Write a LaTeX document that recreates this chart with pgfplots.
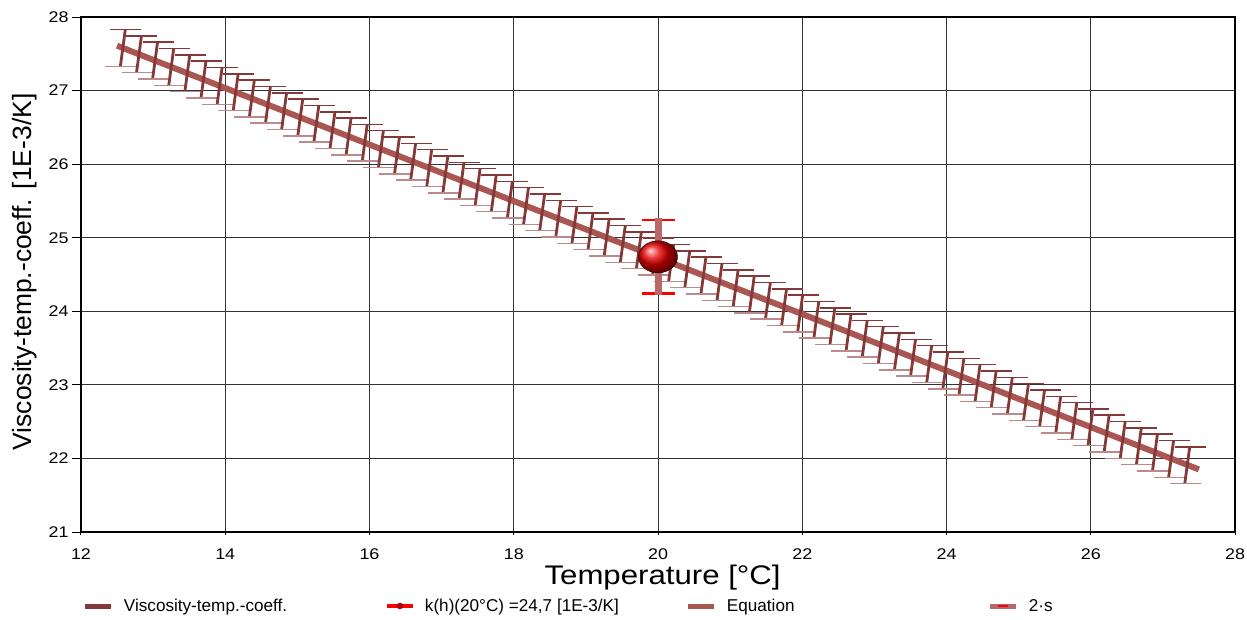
\documentclass[border=0pt]{standalone}
\usepackage{fontspec}
\setmainfont{Liberation Sans}
\newfontfamily\widefont[FakeStretch=1.16]{Liberation Sans}
\usepackage{pgfplots}
\usepackage{pgfplotstable}
\pgfplotsset{compat=1.18}
\usetikzlibrary{calc}
\definecolor{barc}{RGB}{132,56,56}
\definecolor{caplight}{RGB}{188,138,138}
\definecolor{eqc}{RGB}{170,86,82}
\definecolor{sbar}{RGB}{184,104,104}
\pgfplotsset{
  upbars/.style={error bars/.cd, y dir=plus, y fixed=0.25, error mark=none,
    draw error bar/.code 2 args={%
      \draw[barc, line width=2.8bp] let \p1=##1, \p2=##2 in (\p1) -- ({\x2+0.135*(\y2-\y1)},\y2);
      \draw[barc, line width=1.5bp] let \p1=##1, \p2=##2 in ({\x2+0.135*(\y2-\y1)-15bp},\y2) -- ({\x2+0.135*(\y2-\y1)+16bp},\y2);
    }},
  lowbars/.style={error bars/.cd, y dir=minus, y fixed=0.25, error mark=none,
    draw error bar/.code 2 args={%
      \draw[barc, line width=2.8bp] let \p1=##1, \p2=##2 in (\p1) -- ({\x2+0.135*(\y2-\y1)},\y2);
      \draw[caplight, line width=1.5bp] let \p1=##1, \p2=##2 in ({\x2+0.135*(\y2-\y1)-15bp},\y2) -- ({\x2+0.135*(\y2-\y1)+16bp},\y2);
    }},
  redbars/.style={error bars/.cd, y dir=both, y fixed=0.5, error mark=none,
    draw error bar/.code 2 args={%
      \draw[red, line width=2.5bp] let \p1=##1, \p2=##2 in ({\x2-16.5bp},\y2) -- ({\x2+16.5bp},\y2);
      \draw[sbar, line width=7bp] let \p1=##1, \p2=##2 in (\p1) -- (\x2,{\y2+0.05*(\y2-\y1)});
    }},
}
\pgfplotstableread{
x y
12.580 27.579
12.804 27.493
13.027 27.407
13.251 27.321
13.474 27.235
13.698 27.149
13.922 27.063
14.145 26.978
14.369 26.892
14.592 26.806
14.816 26.720
15.040 26.634
15.263 26.548
15.487 26.462
15.710 26.376
15.934 26.290
16.158 26.204
16.381 26.118
16.605 26.032
16.828 25.946
17.052 25.860
17.276 25.774
17.499 25.689
17.723 25.603
17.946 25.517
18.170 25.431
18.394 25.345
18.617 25.259
18.841 25.173
19.064 25.087
19.288 25.001
19.512 24.915
19.735 24.829
19.959 24.743
20.182 24.657
20.406 24.571
20.630 24.486
20.853 24.400
21.077 24.314
21.300 24.228
21.524 24.142
21.748 24.056
21.971 23.970
22.195 23.884
22.418 23.798
22.642 23.712
22.866 23.626
23.089 23.540
23.313 23.454
23.536 23.368
23.760 23.283
23.984 23.197
24.207 23.111
24.431 23.025
24.654 22.939
24.878 22.853
25.102 22.767
25.325 22.681
25.549 22.595
25.772 22.509
25.996 22.423
26.220 22.337
26.443 22.251
26.667 22.165
26.890 22.079
27.114 21.994
27.338 21.908
}\bars
\begin{document}
\begin{tikzpicture}
\useasboundingbox (-81bp,-88bp) rectangle (1166bp,532bp);
\begin{axis}[
  at={(0,0)}, anchor=south west,
  scale only axis, width=1154bp, height=515bp,
  xmin=12, xmax=28, ymin=21, ymax=28,
  xtick={12,14,...,28}, ytick={21,22,...,28},
  grid=major, grid style={black!80, line width=1bp},
  axis line style={black, line width=1.8bp},
  tick pos=left, tick align=outside, major tick length=9bp,
  xtick style={/pgfplots/major tick length=3bp},
  tick style={black, line width=1bp},
  ticklabel style={font=\widefont\fontsize{15.5}{15.5}\selectfont},
  xticklabel style={yshift=-4bp},
  /pgf/number format/assume math mode=true,
  xlabel={Temperature [°C]},
  ylabel={Viscosity-temp.-coeff. [1E-3/K]},
  xlabel style={at={(axis description cs:0.504,-0.0893)}, anchor=center, font=\widefont\fontsize{27}{27}\selectfont},
  ylabel style={at={(axis description cs:-0.0485,0.505)}, anchor=center, font=\fontsize{26.5}{26.5}\selectfont},
  legend columns=4,
  legend style={at={(axis description cs:0.0017,-0.1437)}, anchor=west, draw=none, fill=none,
    inner sep=0pt, outer sep=0pt, font=\fontsize{17.2}{17.2}\selectfont,
    /tikz/every odd column/.append style={column sep=10bp},
    nodes={inner sep=0pt}},
]
% Equation line
\addplot[forget plot, color=eqc, line width=6bp] coordinates {(12.5,27.61) (27.5,21.85)};
% upper and lower error bars (slanted)
\addplot[forget plot, draw=none, mark=none, upbars] table {\bars};
\addplot[forget plot, draw=none, mark=none, lowbars] table {\bars};
% k(h)(20 C) with 2s
\addplot[forget plot, draw=none, mark=none, redbars] coordinates {(20,24.74)};
\addplot[forget plot, only marks, mark=ball, ball color=red!92!black, mark size=16bp,
  mark options={xscale=1.22}] coordinates {(20,24.74)};
% legend
\addlegendimage{legend image code/.code={\draw[barc, line width=5bp] (0bp,0bp) -- (26bp,0bp);}}
\addlegendentry{\makebox[261bp][l]{Viscosity-temp.-coeff.}}
\addlegendimage{legend image code/.code={\draw[red, line width=4bp] (0bp,0bp) -- (26bp,0bp); \fill[red!70!black] (13bp,0bp) circle (3bp);}}
\addlegendentry{\makebox[261bp][l]{k(h)(20°C) =24,7 [1E-3/K]}}
\addlegendimage{legend image code/.code={\draw[eqc, line width=5bp] (0bp,0bp) -- (26bp,0bp);}}
\addlegendentry{\makebox[261bp][l]{Equation}}
\addlegendimage{legend image code/.code={\draw[sbar, line width=5bp] (0bp,0bp) -- (26bp,0bp); \draw[red, line width=2bp] (8bp,0bp) -- (18bp,0bp);}}
\addlegendentry{2·s}
\end{axis}
\end{tikzpicture}
\end{document}
